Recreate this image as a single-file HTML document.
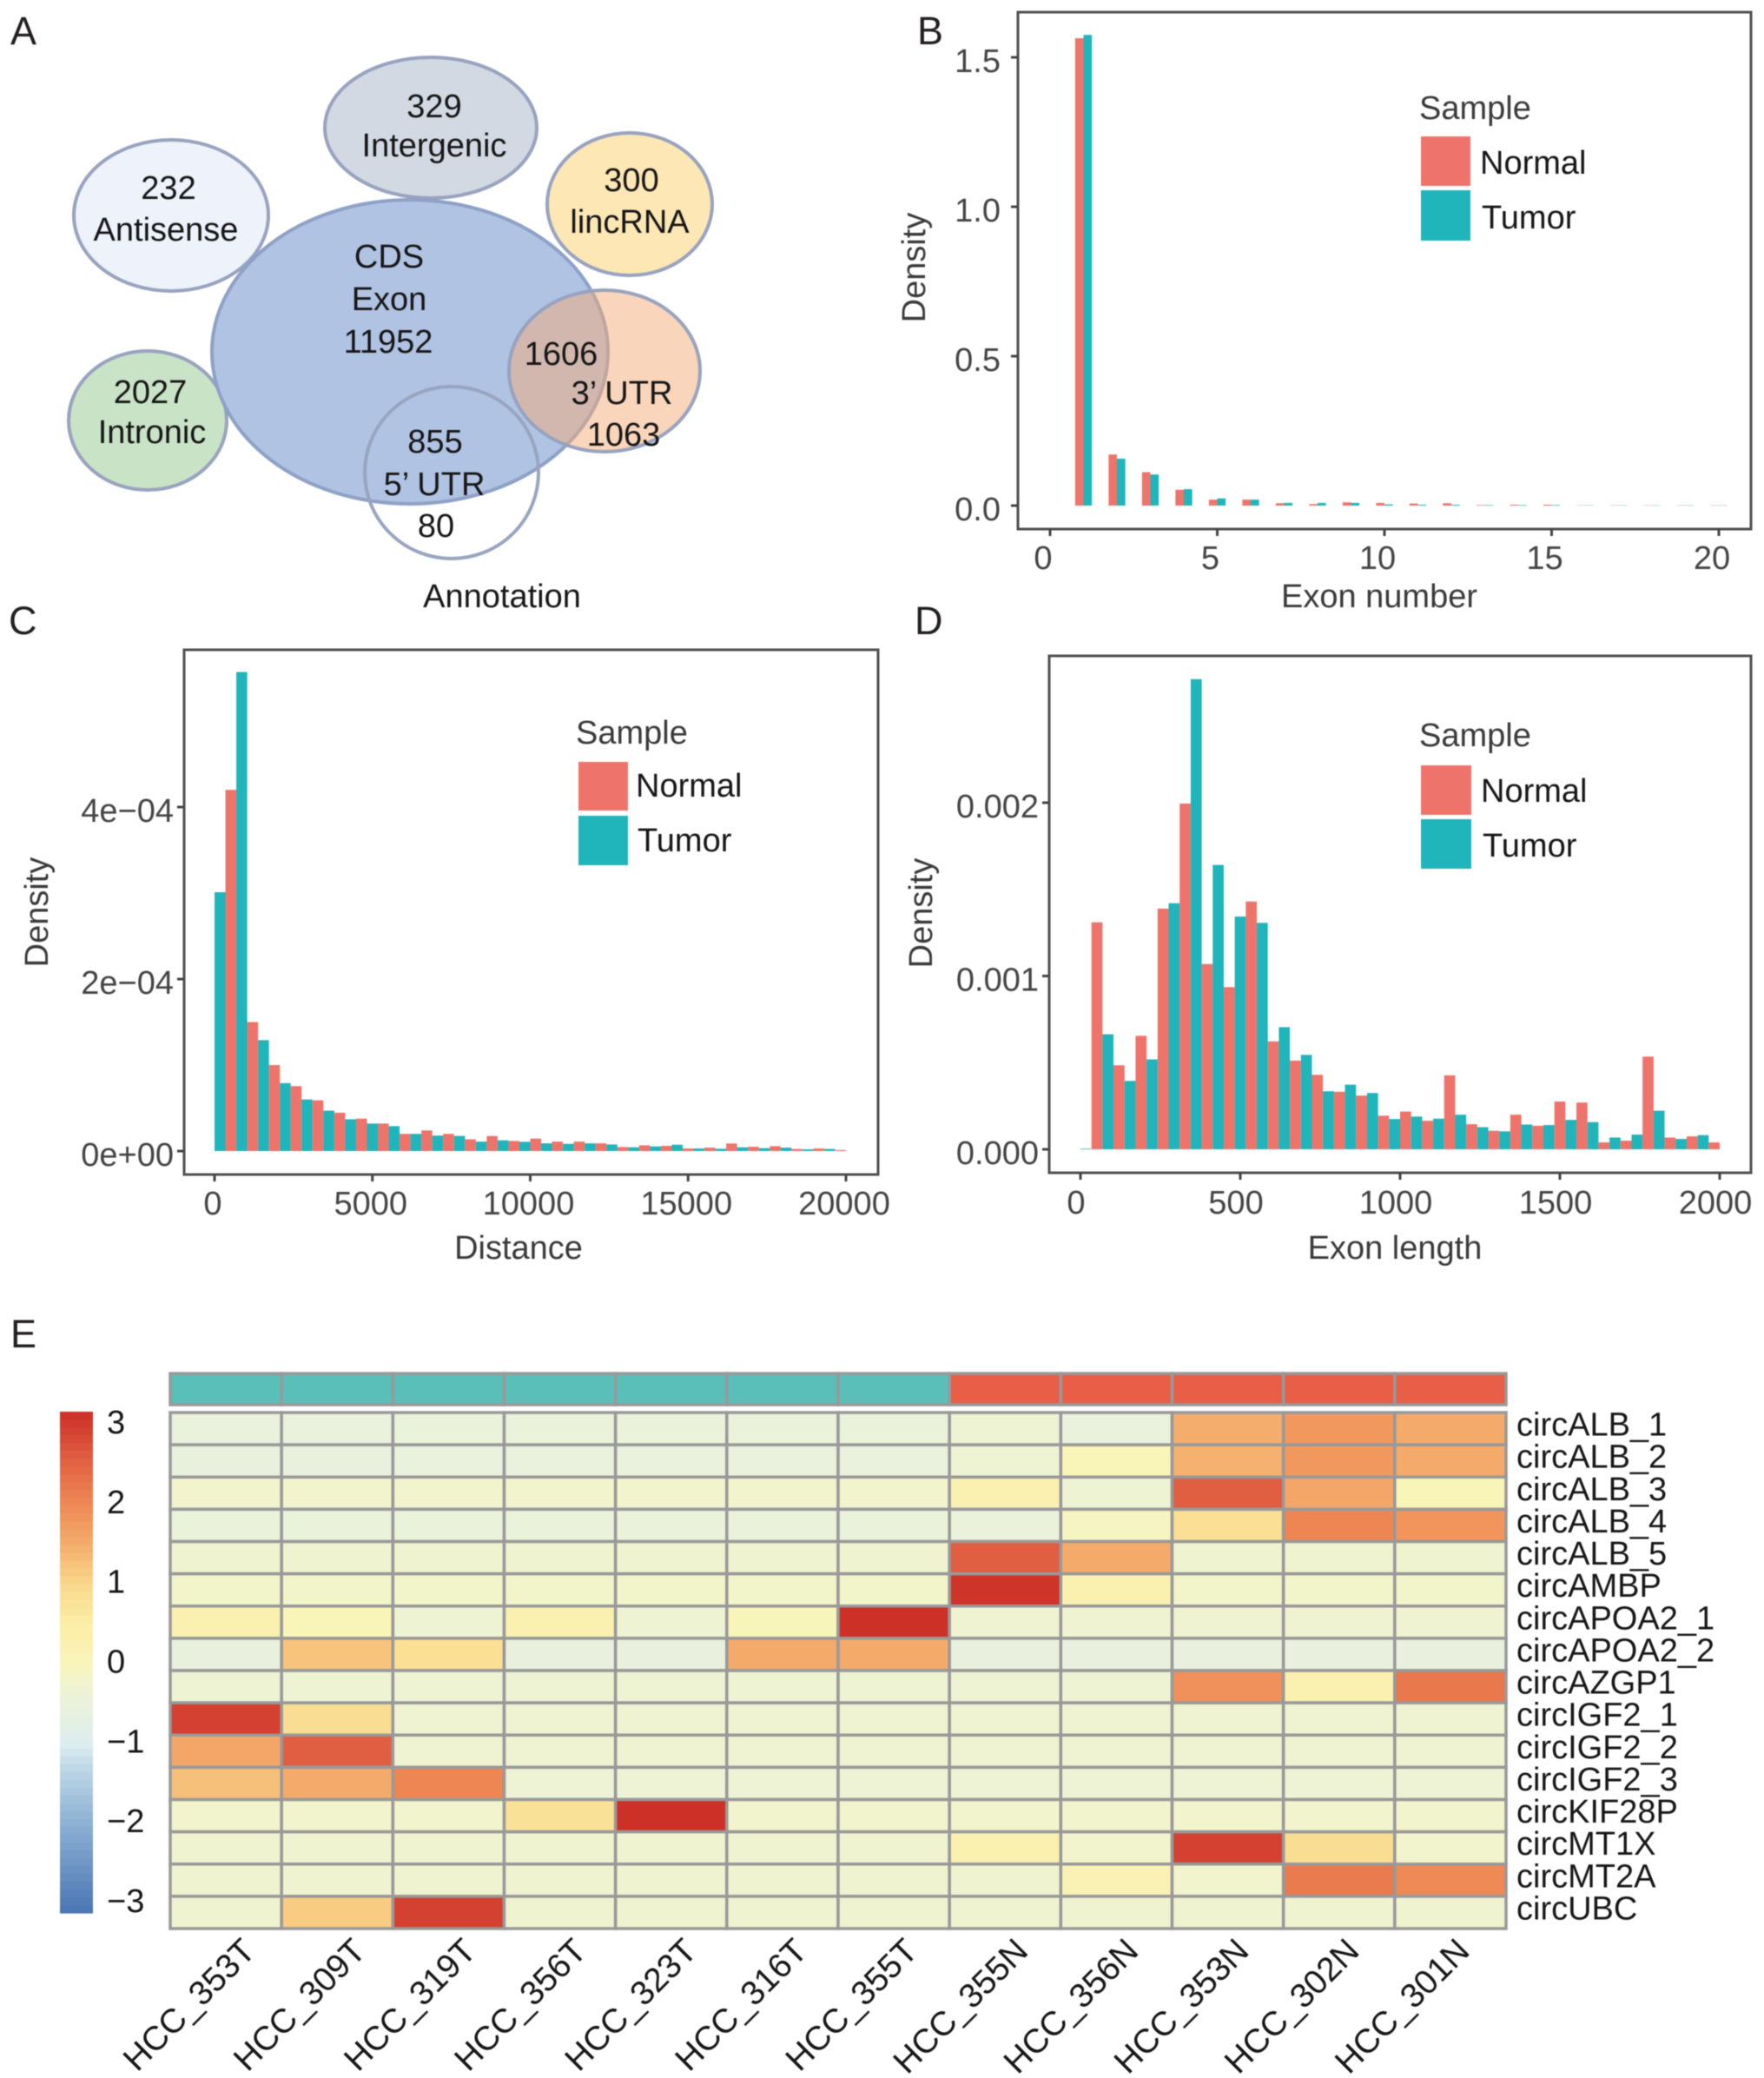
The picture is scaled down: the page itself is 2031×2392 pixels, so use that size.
<!DOCTYPE html>
<html lang="en">
<head>
<meta charset="utf-8">
<title>circRNA annotation figure</title>
<style>
html,body{margin:0;padding:0;background:#fff}
svg{display:block;filter:blur(0.5px)}
text{font-family:"Liberation Sans",Arial,sans-serif}
.panel-letter{font-size:45px;fill:#231f20}
.a{font-size:38px;fill:#161616;text-anchor:middle}
.title{font-size:38px;fill:#3a3a3a;text-anchor:middle}
.leg-title{font-size:38px;fill:#3a3a3a}
.leg{font-size:38px;fill:#161616}
.tick{font-size:38px;fill:#444}
</style>
</head>
<body>
<svg id="fig" xmlns="http://www.w3.org/2000/svg" width="2031" height="2392" viewBox="0 0 2031 2392">
  <rect x="0" y="0" width="2031" height="2392" fill="#fff"/>

  <text class="panel-letter" x="12" y="51">A</text>
  <text class="panel-letter" x="1056" y="51">B</text>
  <text class="panel-letter" x="10" y="730">C</text>
  <text class="panel-letter" x="1053" y="730">D</text>
  <text class="panel-letter" x="12" y="1551">E</text>

  <g id="panel-a">
    <ellipse cx="496" cy="147" rx="122" ry="81" fill="#d3d9e3" stroke="#98a3bf" stroke-width="4"/>
    <ellipse cx="197" cy="248" rx="112" ry="87" fill="#edf2fb" stroke="#98a3bf" stroke-width="4"/>
    <ellipse cx="725" cy="235" rx="95" ry="82" fill="#fde7b4" stroke="#98a3bf" stroke-width="4"/>
    <ellipse cx="170" cy="484" rx="91" ry="80" fill="#c9e3c6" stroke="#98a3bf" stroke-width="4"/>
    <ellipse cx="472" cy="405" rx="228" ry="175" fill="#b0c3e3" stroke="#8ea1c6" stroke-width="4"/>
    <ellipse cx="696" cy="427" rx="110" ry="93" fill="#f1ab77" fill-opacity="0.5" stroke="#98a3bf" stroke-width="4"/>
    <ellipse cx="520" cy="544" rx="100" ry="99" fill="none" stroke="#98a5c0" stroke-width="4"/>
    <text class="a" x="500" y="135">329</text>
    <text class="a" x="500" y="180">Intergenic</text>
    <text class="a" x="194" y="229">232</text>
    <text class="a" x="191" y="277">Antisense</text>
    <text class="a" x="727" y="220">300</text>
    <text class="a" x="725" y="268">lincRNA</text>
    <text class="a" x="448" y="308">CDS</text>
    <text class="a" x="448" y="357">Exon</text>
    <text class="a" x="447" y="406">11952</text>
    <text class="a" x="646" y="420">1606</text>
    <text class="a" x="716" y="465">3’ UTR</text>
    <text class="a" x="718" y="513">1063</text>
    <text class="a" x="173" y="464">2027</text>
    <text class="a" x="175" y="510">Intronic</text>
    <text class="a" x="501" y="521">855</text>
    <text class="a" x="500" y="570">5’ UTR</text>
    <text class="a" x="502" y="618">80</text>
    <text class="a" x="578" y="699" fill="#111">Annotation</text>
  </g>

  <text class="title" x="1588" y="699">Exon number</text>
  <text class="title" transform="translate(1065 308) rotate(-90)">Density</text>
  <text class="title" x="597" y="1449">Distance</text>
  <text class="title" transform="translate(55 1050) rotate(-90)">Density</text>
  <text class="title" x="1606" y="1449">Exon length</text>
  <text class="title" transform="translate(1073 1051) rotate(-90)">Density</text>

  <g>
    <text class="leg-title" x="1634" y="137">Sample</text>
    <rect x="1636" y="157" width="57" height="57" fill="#ee736a"/>
    <rect x="1636" y="219" width="57" height="58" fill="#20b4bb"/>
    <text class="leg" x="1704" y="200">Normal</text>
    <text class="leg" x="1706" y="263">Tumor</text>
  </g>
  <g>
    <text class="leg-title" x="663" y="856">Sample</text>
    <rect x="666" y="877" width="57" height="56" fill="#ee736a"/>
    <rect x="666" y="939" width="57" height="57" fill="#20b4bb"/>
    <text class="leg" x="732" y="917">Normal</text>
    <text class="leg" x="734" y="980">Tumor</text>
  </g>
  <g>
    <text class="leg-title" x="1634" y="859">Sample</text>
    <rect x="1636" y="881" width="58" height="57" fill="#ee736a"/>
    <rect x="1636" y="943" width="58" height="57" fill="#20b4bb"/>
    <text class="leg" x="1705" y="923">Normal</text>
    <text class="leg" x="1707" y="986">Tumor</text>
  </g>
</svg>

<script>
// ---------- Panel B data: exon number histogram ----------
const bXTicks = [0, 5, 10, 15, 20];
const bYTicks = [0, 0.5, 1.0, 1.5];
const bYTickLabels = ["0.0", "0.5", "1.0", "1.5"];
const bNormal = [0, 1.564, 0.171, 0.112, 0.053, 0.020, 0.020, 0.008, 0.005, 0.011, 0.009, 0.007, 0.008, 0.002, 0.003, 0.003, 0.001, 0.001, 0.001, 0.001, 0.001];
const bTumor = [0, 1.575, 0.157, 0.104, 0.055, 0.024, 0.020, 0.009, 0.009, 0.009, 0.004, 0.003, 0.003, 0.002, 0.002, 0.002, 0.001, 0.001, 0.001, 0.001, 0.001];

// ---------- Panel C data: distance histogram ----------
const cXTicks = [0, 5000, 10000, 15000, 20000];
const cYTicks = [0, 2e-4, 4e-4];
const cYTickLabels = ["0e+00", "2e\u221204", "4e\u221204"];
const cNormal = [0, 4.20e-4, 1.50e-4, 1.00e-4, 0.755e-4, 0.59e-4, 0.446e-4, 0.377e-4, 0.32e-4, 0.20e-4, 0.24e-4, 0.20e-4, 0.137e-4, 0.175e-4, 0.118e-4, 0.145e-4, 0.11e-4, 0.11e-4, 0.09e-4, 0.047e-4, 0.067e-4, 0.06e-4, 0.03e-4, 0.04e-4, 0.088e-4, 0.05e-4, 0.057e-4, 0.024e-4, 0.03e-4, 0.012e-4];
const cTumor = [3.01e-4, 5.57e-4, 1.29e-4, 0.79e-4, 0.60e-4, 0.47e-4, 0.37e-4, 0.32e-4, 0.29e-4, 0.20e-4, 0.18e-4, 0.176e-4, 0.11e-4, 0.125e-4, 0.108e-4, 0.09e-4, 0.084e-4, 0.09e-4, 0.077e-4, 0.044e-4, 0.054e-4, 0.074e-4, 0.03e-4, 0.027e-4, 0.044e-4, 0.034e-4, 0.04e-4, 0.02e-4, 0.024e-4, 0];

// ---------- Panel D data: exon length histogram ----------
const dXTicks = [0, 500, 1000, 1500, 2000];
const dYTicks = [0, 0.001, 0.002];
const dYTickLabels = ["0.000", "0.001", "0.002"];
const dNormal = [0, 0.00131, 0.000485, 0.000655, 0.001389, 0.001995, 0.001069, 0.000936, 0.00143, 0.000623, 0.000512, 0.00043, 0.000332, 0.00031, 0.000194, 0.000218, 0.000165, 0.000427, 0.000145, 0.000107, 0.0002, 0.000136, 0.000276, 0.00027, 0.00004, 0.00005, 0.000535, 0.000068, 0.000075, 0.00004];
const dTumor = [0.000004, 0.000664, 0.000395, 0.000519, 0.00142, 0.002713, 0.001641, 0.001343, 0.001307, 0.000705, 0.000545, 0.000335, 0.000373, 0.000325, 0.000175, 0.000189, 0.000177, 0.0002, 0.000128, 0.000104, 0.000143, 0.00014, 0.00017, 0.000157, 0.000068, 0.000085, 0.000223, 0.00006, 0.000082, 0];

// ---------- Panel E data: expression heatmap ----------
const heatmapColumns = ["HCC_353T", "HCC_309T", "HCC_319T", "HCC_356T", "HCC_323T", "HCC_316T", "HCC_355T", "HCC_355N", "HCC_356N", "HCC_353N", "HCC_302N", "HCC_301N"];
const heatmapRows = ["circALB_1", "circALB_2", "circALB_3", "circALB_4", "circALB_5", "circAMBP", "circAPOA2_1", "circAPOA2_2", "circAZGP1", "circIGF2_1", "circIGF2_2", "circIGF2_3", "circKIF28P", "circMT1X", "circMT2A", "circUBC"];
const heatmapValues = [
  [-0.50, -0.50, -0.45, -0.45, -0.45, -0.45, -0.45, -0.30, -0.50, 1.50, 1.80, 1.55],
  [-0.55, -0.55, -0.50, -0.50, -0.50, -0.50, -0.50, -0.30, 0.10, 1.45, 1.80, 1.55],
  [-0.22, -0.22, -0.22, -0.22, -0.22, -0.22, -0.22, 0.30, -0.30, 2.60, 1.60, 0.10],
  [-0.45, -0.45, -0.45, -0.45, -0.45, -0.45, -0.45, -0.45, -0.08, 0.85, 2.05, 1.85],
  [-0.25, -0.25, -0.25, -0.25, -0.25, -0.25, -0.25, 2.60, 1.55, -0.25, -0.25, -0.25],
  [-0.18, -0.18, -0.18, -0.18, -0.18, -0.18, -0.18, 3.10, 0.30, -0.18, -0.18, -0.18],
  [0.30, 0.10, -0.30, 0.30, -0.30, 0.03, 3.15, -0.28, -0.28, -0.28, -0.28, -0.28],
  [-0.55, 1.25, 0.85, -0.55, -0.55, 1.55, 1.55, -0.55, -0.55, -0.55, -0.55, -0.55],
  [-0.30, -0.30, -0.30, -0.30, -0.30, -0.30, -0.30, -0.30, -0.30, 1.90, 0.30, 2.25],
  [2.95, 0.90, -0.27, -0.27, -0.27, -0.27, -0.27, -0.27, -0.27, -0.27, -0.27, -0.27],
  [1.60, 2.60, -0.27, -0.27, -0.27, -0.27, -0.27, -0.27, -0.27, -0.27, -0.27, -0.27],
  [1.30, 1.55, 2.05, -0.32, -0.32, -0.32, -0.32, -0.32, -0.32, -0.32, -0.32, -0.32],
  [-0.20, -0.20, -0.20, 0.80, 3.20, -0.20, -0.20, -0.20, -0.20, -0.20, -0.20, -0.20],
  [-0.25, -0.25, -0.25, -0.25, -0.25, -0.25, -0.25, 0.30, -0.20, 2.95, 0.90, -0.22],
  [-0.25, -0.25, -0.25, -0.25, -0.25, -0.25, -0.25, -0.25, 0.18, -0.22, 2.20, 2.00],
  [-0.25, 1.15, 2.95, -0.25, -0.25, -0.25, -0.25, -0.25, -0.25, -0.25, -0.25, -0.25]
];
const annotationGroups = ["Tumor", "Tumor", "Tumor", "Tumor", "Tumor", "Tumor", "Tumor", "Normal", "Normal", "Normal", "Normal", "Normal"];
const colorbarTicks = [3, 2, 1, 0, -1, -2, -3];
const colorStopValues = [-3.15, -2, -1.3, -1, -0.55, -0.3, 0, 0.5, 1, 1.5, 2, 2.6, 3.15];
const colorStopColors = ["#4773b1", "#8bb0d3", "#bdd7e6", "#dcedf0", "#e9f1de", "#eef3d4", "#f8f5bb", "#fbeea8", "#f9d98d", "#f4ad6d", "#ef8a56", "#e05e41", "#cd3027"];

const NS = "http://www.w3.org/2000/svg";
const fig = document.getElementById("fig");
const NORMAL = "#ee736a";
const TUMOR = "#20b4bb";

function make(tag, parent, attrs, txt) {
  const el = document.createElementNS(NS, tag);
  for (const k in attrs) el.setAttribute(k, attrs[k]);
  if (txt !== undefined) el.textContent = txt;
  parent.appendChild(el);
  return el;
}

function linear(d0, d1, r0, r1) {
  return function (v) { return r0 + (v - d0) * (r1 - r0) / (d1 - d0); };
}

function drawHistogram(opt) {
  const root = make("g", fig, {});
  
  
  const xS = linear(opt.xDomain[0], opt.xDomain[1], opt.xRange[0], opt.xRange[1]);
  const yS = linear(opt.yDomain[0], opt.yDomain[1], opt.yRange[0], opt.yRange[1]);
  const base = yS(0);

  for (let k = 0; k < opt.normal.length; k++) {
    const c = k * opt.binWidth;
    const hN = base - yS(opt.normal[k]);
    const hT = base - yS(opt.tumor[k]);
    if (opt.normal[k] > 0) {
      const barN = make("rect", root, { x: xS(c - opt.barWidth), y: yS(opt.normal[k]), width: xS(c) - xS(c - opt.barWidth), height: hN, fill: NORMAL });
      
      
    }
    if (opt.tumor[k] > 0) {
      const barT = make("rect", root, { x: xS(c), y: yS(opt.tumor[k]), width: xS(c + opt.barWidth) - xS(c), height: hT, fill: TUMOR });
      
      
    }
  }

  const frame = make("rect", root, { x: opt.frame[0], y: opt.frame[1], width: opt.frame[2] - opt.frame[0], height: opt.frame[3] - opt.frame[1], fill: "none", stroke: "#4f4f4f", "stroke-width": 3 });
  
  

  opt.xTicks.forEach(function (t) {
    const tickMark = make("line", root, { x1: xS(t), x2: xS(t), y1: opt.frame[3], y2: opt.frame[3] + 8, stroke: "#444", "stroke-width": 3 });
    
    
    const tickLabel = make("text", root, { class: "tick", x: xS(t) + opt.xLabelShift, y: opt.xLabelY, "text-anchor": "middle" }, String(t));
    
    
  });
  opt.yTicks.forEach(function (t, i) {
    const tickMark = make("line", root, { x1: opt.frame[0] - 8, x2: opt.frame[0], y1: yS(t), y2: yS(t), stroke: "#444", "stroke-width": 3 });
    
    
    const tickLabel = make("text", root, { class: "tick", x: opt.yLabelX, y: yS(t) + opt.yLabelShift, "text-anchor": "end" }, opt.yLabels[i]);
    
    
  });
}

drawHistogram({
  name: "exon-number-histogram", normal: bNormal, tumor: bTumor, binWidth: 1, barWidth: 0.25,
  xDomain: [0, 20], xRange: [1209, 1979], yDomain: [0, 1.5], yRange: [582, 66],
  frame: [1172, 14, 2016, 609], xTicks: bXTicks, yTicks: bYTicks, yLabels: bYTickLabels,
  xLabelShift: -8, xLabelY: 655, yLabelX: 1152, yLabelShift: 17
});
drawHistogram({
  name: "distance-histogram", normal: cNormal, tumor: cTumor, binWidth: 20000 / 29, barWidth: 10000 / 29,
  xDomain: [0, 20000], xRange: [247, 974], yDomain: [0, 4e-4], yRange: [1325, 929],
  frame: [212, 748, 1011, 1352], xTicks: cXTicks, yTicks: cYTicks, yLabels: cYTickLabels,
  xLabelShift: -2, xLabelY: 1398, yLabelX: 200, yLabelShift: 17
});
drawHistogram({
  name: "exon-length-histogram", normal: dNormal, tumor: dTumor, binWidth: 2000 / 29, barWidth: 1000 / 29,
  xDomain: [0, 2000], xRange: [1244, 1980], yDomain: [0, 0.002], yRange: [1323, 924],
  frame: [1208, 755, 2016, 1350], xTicks: dXTicks, yTicks: dYTicks, yLabels: dYTickLabels,
  xLabelShift: -5, xLabelY: 1397, yLabelX: 1196, yLabelShift: 17
});

// ---------- Heatmap ----------
function hexToRgb(h) {
  return [parseInt(h.slice(1, 3), 16), parseInt(h.slice(3, 5), 16), parseInt(h.slice(5, 7), 16)];
}
function colorFor(v) {
  const n = colorStopValues.length;
  if (v <= colorStopValues[0]) return colorStopColors[0];
  if (v >= colorStopValues[n - 1]) return colorStopColors[n - 1];
  for (let i = 0; i < n - 1; i++) {
    if (v <= colorStopValues[i + 1]) {
      const t = (v - colorStopValues[i]) / (colorStopValues[i + 1] - colorStopValues[i]);
      const a = hexToRgb(colorStopColors[i]);
      const b = hexToRgb(colorStopColors[i + 1]);
      return "rgb(" + Math.round(a[0] + (b[0] - a[0]) * t) + "," + Math.round(a[1] + (b[1] - a[1]) * t) + "," + Math.round(a[2] + (b[2] - a[2]) * t) + ")";
    }
  }
  return colorStopColors[n - 1];
}

const hmLeft = 196, hmRight = 1734, hmTop = 1626, hmBottom = 2220;
const colW = (hmRight - hmLeft) / heatmapColumns.length;
const rowH = (hmBottom - hmTop) / heatmapRows.length;
const GRID = "#999999";

const heat = make("g", fig, {});



annotationGroups.forEach(function (g, c) {
  const annot = make("rect", heat, { x: hmLeft + c * colW, y: 1581, width: colW, height: 36, fill: g === "Tumor" ? "#5abfb9" : "#e85e47", stroke: GRID, "stroke-width": 3.5 });
  
  
});

heatmapValues.forEach(function (row, r) {
  row.forEach(function (v, c) {
    const cell = make("rect", heat, { x: hmLeft + c * colW, y: hmTop + r * rowH, width: colW, height: rowH, fill: colorFor(v), stroke: GRID, "stroke-width": 3.5 });
    
    
  });
});

heatmapRows.forEach(function (name, r) {
  const rowLabel = make("text", heat, { x: 1746, y: hmTop + r * rowH + 26.5, "font-size": 38, fill: "#161616" }, name);
  
  
});

const colLabelStep = 127.1;
heatmapColumns.forEach(function (name, c) {
  const cx = 296 + c * colLabelStep;
  const cy = 2248;
  const colLabel = make("text", heat, { x: cx, y: cy, "font-size": 39, fill: "#161616", "text-anchor": "end", transform: "rotate(-45 " + cx + " " + cy + ")" }, name);
  
  
});

// ---------- Colour bar ----------
const cbar = make("g", fig, {});


const cbTop = 1625, cbBottom = 2202, cbSteps = 64;
const cbValue = linear(cbTop, cbBottom, 3.13, -3.15);
for (let i = 0; i < cbSteps; i++) {
  const yy = cbTop + i * (cbBottom - cbTop) / cbSteps;
  const strip = make("rect", cbar, { x: 69, y: yy, width: 38, height: (cbBottom - cbTop) / cbSteps + 0.6, fill: colorFor(cbValue(yy)) });
  
  
}
const cbTickY = linear(3, -3, 1637, 2188);
colorbarTicks.forEach(function (t) {
  const label = make("text", cbar, { x: 123, y: cbTickY(t) + 13, "font-size": 38, fill: "#161616" }, (t < 0 ? "\u2212" + Math.abs(t) : String(t)));
  
  
});
</script>
</body>
</html>
